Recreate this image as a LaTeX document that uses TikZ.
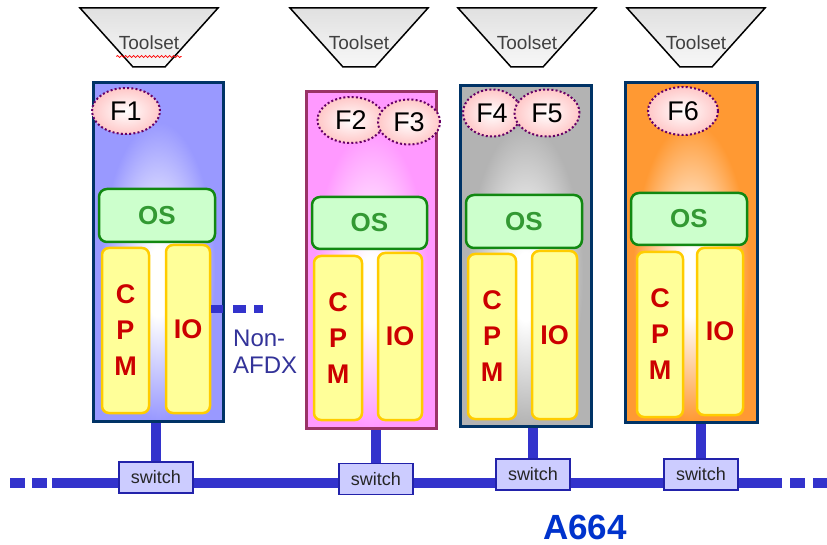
\documentclass[tikz,border=0pt]{standalone}
\usepackage{fontspec}
\setmainfont{Liberation Sans}
\usepackage{xcolor}
\definecolor{avnavy}{HTML}{003366}
\definecolor{avberry}{HTML}{993366}
\definecolor{avblue}{HTML}{9999FF}
\definecolor{avpink}{HTML}{FF99FF}
\definecolor{avsilver}{HTML}{B3B3B3}
\definecolor{avorange}{HTML}{FF9933}
\definecolor{avgreen}{HTML}{118811}
\definecolor{avmint}{HTML}{CCFFCC}
\definecolor{avleaf}{HTML}{339933}
\definecolor{avgold}{HTML}{FFCC00}
\definecolor{avlemon}{HTML}{FFFF99}
\definecolor{avred}{HTML}{CC0000}
\definecolor{avbusc}{HTML}{3333CC}
\definecolor{avlilac}{HTML}{CCCCFF}
\definecolor{avdeep}{HTML}{2222AA}
\definecolor{avrose}{HTML}{FFC8C8}
\definecolor{avplum}{HTML}{660066}
\definecolor{avink}{HTML}{333399}
\definecolor{avtitle}{HTML}{0033CC}
\usepackage{tikz}
\usetikzlibrary{shapes.geometric,backgrounds,decorations.pathmorphing}
\pgfdeclareradialshading{glowblue}{\pgfpoint{0bp}{-5bp}}{color(0bp)=(white); color(5bp)=(white); color(22bp)=(avblue); color(50bp)=(avblue)}
\pgfdeclareradialshading{glowpink}{\pgfpoint{0bp}{-5bp}}{color(0bp)=(white); color(5bp)=(white); color(22bp)=(avpink); color(50bp)=(avpink)}
\pgfdeclareradialshading{glowsilver}{\pgfpoint{0bp}{-5bp}}{color(0bp)=(white); color(5bp)=(white); color(22bp)=(avsilver); color(50bp)=(avsilver)}
\pgfdeclareradialshading{gloworange}{\pgfpoint{0bp}{-5bp}}{color(0bp)=(white); color(5bp)=(white); color(22bp)=(avorange); color(50bp)=(avorange)}
\tikzset{
  avmod/.style={draw=#1,line width=3pt,inner sep=0pt},
  avfunc/.style={ellipse,draw=avplum,line width=2pt,dash pattern=on 2pt off 2.2pt,inner color=white,outer color=avrose,inner sep=0pt,font=\fontsize{27}{30}\selectfont},
  avos/.style={draw=avgreen,line width=2.5pt,fill=avmint,rounded corners=8pt,inner sep=0pt,font=\bfseries\fontsize{26}{28}\selectfont,text=avleaf},
  avcpm/.style={draw=avgold,line width=2.5pt,fill=avlemon,rounded corners=7pt,inner sep=0pt,align=center,font=\bfseries\fontsize{27}{36}\selectfont,text=avred},
  avswitch/.style={draw=avdeep,line width=1.5pt,fill=avlilac,inner sep=0pt,minimum width=74pt,minimum height=31pt,font=\fontsize{18}{20}\selectfont,text=black!85},
  avbus/.style={draw=avbusc,line width=10pt},
  avtool/.style={draw=black,line width=1.5pt,top color=black!12,bottom color=black!3},
  avtooltext/.style={font=\fontsize{19}{20}\selectfont,text=black!75},
}

\begin{document}
\begin{tikzpicture}[x=1pt,y=-1pt]
\useasboundingbox (0,0) rectangle (827,545);
% toolsets
\draw[avtool] (80,8) -- (218,8) -- (165,67) -- (133,67) -- cycle;
\node[avtooltext] (t1) at (149,43) {Toolset};
\draw[red,line width=0.8pt,decorate,decoration={snake,amplitude=1pt,segment length=4pt}] ([xshift=1pt,yshift=-3pt]t1.south west) -- ([xshift=-1pt,yshift=-3pt]t1.south east);
\draw[avtool] (290,8) -- (428,8) -- (375,67) -- (343,67) -- cycle;
\node[avtooltext] (t2) at (359,43) {Toolset};
\draw[avtool] (458,8) -- (596,8) -- (543,67) -- (511,67) -- cycle;
\node[avtooltext] (t3) at (527,43) {Toolset};
\draw[avtool] (627,8) -- (765,8) -- (712,67) -- (680,67) -- cycle;
\node[avtooltext] (t4) at (696,43) {Toolset};

% modules
\node[avmod=avnavy,shading=glowblue,minimum width=130pt,minimum height=338pt] (m1) at (158,252) {};
\node[avfunc,minimum width=68pt,minimum height=46pt] (f1) at (126,111) {F1};
\node[avos,minimum width=116pt,minimum height=53pt] (os1) at (157,215.5) {OS};
\node[avcpm,minimum width=47pt,minimum height=165pt] (cpm1) at (125.5,330.5) {C\\P\\M};
\node[avcpm,minimum width=44pt,minimum height=168pt] (io1) at (188,329) {IO};

\node[avmod=avberry,shading=glowpink,minimum width=130pt,minimum height=336pt] (m2) at (371,260) {};
\node[avfunc,minimum width=67pt,minimum height=46pt] (f2) at (351,120) {F2};
\node[avfunc,minimum width=62pt,minimum height=45pt] (f3) at (409,122) {F3};
\node[avos,minimum width=115pt,minimum height=52pt] (os2) at (369.5,223) {OS};
\node[avcpm,minimum width=48pt,minimum height=164pt] (cpm2) at (338,338) {C\\P\\M};
\node[avcpm,minimum width=44pt,minimum height=167pt] (io2) at (400,336.5) {IO};

\node[avmod=avnavy,shading=glowsilver,minimum width=131pt,minimum height=340pt] (m3) at (525.5,256) {};
\node[avfunc,minimum width=58pt,minimum height=47pt] (f4) at (492,113) {F4};
\node[avfunc,minimum width=65pt,minimum height=47pt] (f5) at (547,113) {F5};
\node[avos,minimum width=116pt,minimum height=53pt] (os3) at (524,221.5) {OS};
\node[avcpm,minimum width=48pt,minimum height=165pt] (cpm3) at (492,336.5) {C\\P\\M};
\node[avcpm,minimum width=45pt,minimum height=168pt] (io3) at (554.5,335) {IO};

\node[avmod=avnavy,shading=gloworange,minimum width=132pt,minimum height=339pt] (m4) at (691,252.5) {};
\node[avfunc,minimum width=70pt,minimum height=48pt] (f6) at (683,111) {F6};
\node[avos,minimum width=116pt,minimum height=52pt] (os4) at (689,219) {OS};
\node[avcpm,minimum width=46pt,minimum height=165pt] (cpm4) at (660,334.5) {C\\P\\M};
\node[avcpm,minimum width=46pt,minimum height=167pt] (io4) at (720,331.5) {IO};

% non-AFDX link
\coordinate (nafdx) at (263,309);
\draw[draw=avbusc,line width=8pt,dash pattern=on 12pt off 10pt on 13pt off 8pt on 10pt] (io1.east |- nafdx) -- (nafdx);
\node[anchor=north west,inner sep=0pt,align=left,text=avink,font=\fontsize{24}{27}\selectfont] (nonafdx) at (233,330) {Non-\\AFDX};

% switches and bus
\node[avswitch] (sw1) at (156,477.5) {switch};
\node[avswitch] (sw2) at (376,479) {switch};
\node[avswitch] (sw3) at (533,474.5) {switch};
\node[avswitch] (sw4) at (701,474.5) {switch};
\coordinate (busfarW) at (10,483);
\coordinate (busW) at (52,483);
\coordinate (busE) at (782,483);
\coordinate (busfarE) at (827,483);
\begin{scope}[on background layer]
\draw[avbus] (busW) -- (busE);
\draw[avbus,dash pattern=on 15pt off 7pt] (busfarW) -- (busW);
\draw[avbus,dash pattern=on 0pt off 8pt on 15pt off 8pt on 15pt] (busE) -- (busfarE);
\end{scope}
\draw[avbus] (sw1.north) -- (sw1.north |- m1.south);
\draw[avbus] (sw2.north) -- (sw2.north |- m2.south);
\draw[avbus] (sw3.north) -- (sw3.north |- m3.south);
\draw[avbus] (sw4.north) -- (sw4.north |- m4.south);

\node[inner sep=0pt,text=avtitle,font=\bfseries\fontsize{35}{38}\selectfont] (a664) at (585,527) {A664};
\end{tikzpicture}
\end{document}
